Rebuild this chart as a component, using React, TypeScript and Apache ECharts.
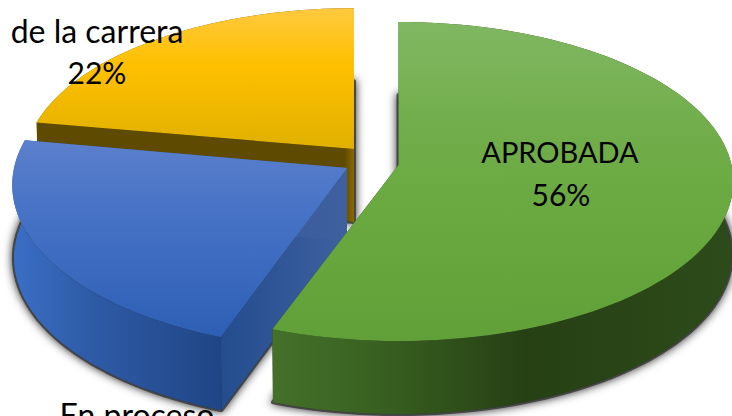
import React, { useEffect, useRef } from "react";
import * as echarts from "echarts";

// Data: counts (200 deg / 80 deg / 80 deg)
const categories = ["APROBADA", "En proceso", "de la carrera"];
const counts = [5, 2, 2];
const showPercent = [true, false, true];

// Layout and styling (not data)
const W = 732, H = 416;
const RX = 333, RY = 157.8, K = 0.1034, DEPTH = 73;
const apexes = [[398.5, 165], [347, 168], [354, 149]];
const scalesX = [1, 1, 0.985];
const scalesY = [1, 1.03, 0.985];
const namePos = [[560, 151], [137, 398], [97, 30]];
const nameSize = [29, 32, 32];
const pctPos = [[561, 194], [137, 440], [97, 72]];
const drawOrder = [2, 1, 0];

const grad = (x: number, y: number, x2: number, y2: number, stops: [number, string][]) => ({
  type: "linear", x, y, x2, y2,
  colorStops: stops.map(([offset, color]) => ({ offset, color })),
});
const tops = [
  grad(0, 0, 0, 1, [[0, "#80b762"], [0.35, "#71ad4a"], [0.6, "#69a93f"], [1, "#61a038"]]),
  grad(0, 0, 0, 1, [[0, "#5b80cc"], [0.35, "#4873c6"], [1, "#2d5fb5"]]),
  grad(0, 0, 0, 1, [[0, "#ffc93f"], [0.4, "#ffc000"], [1, "#e0b000"]]),
];
const sides = [
  grad(0, 0, 1, 0, [[0, "#44702a"], [0.2, "#3a6322"], [0.55, "#264014"], [1, "#2d4b1a"]]),
  grad(0, 0, 1, 0, [[0, "#3a6fc6"], [0.35, "#2f5ca8"], [1, "#1f4585"]]),
  grad(0, 0, 1, 0, [[0, "#5e4a00"], [1, "#5e4a00"]]),
];
const faces = [
  "#22391a",
  grad(0, 0, 1, 0, [[0, "#234d8f"], [1, "#3f609f"]]),
  grad(0, 0, 1, 0, [[0, "#5e4a00"], [0.97, "#5e4a00"], [1, "#8a6a00"]]),
];

function rim(i: number, a0: number, a1: number): number[][] {
  const pts: number[][] = [];
  const n = Math.ceil((a1 - a0) / 2);
  for (let s = 0; s <= n; s++) {
    const t = ((a0 + ((a1 - a0) * s) / n) * Math.PI) / 180;
    const X = Math.sin(t), Y = -Math.cos(t), d = 1 - K * Y;
    pts.push([
      apexes[i][0] + (scalesX[i] * RX * X) / d,
      apexes[i][1] + (scalesY[i] * RY * Y) / d,
    ]);
  }
  return pts;
}
const lower = (p: number[], i: number) => [
  apexes[i][0] + (p[0] - apexes[i][0]) * 0.995,
  p[1] + DEPTH,
];

const total = counts.reduce((a, b) => a + b, 0);
const ranges: number[][] = [];
counts.reduce((acc, v) => {
  const next = acc + (v / total) * 360;
  ranges.push([acc, next]);
  return next;
}, 0);

const poly = (points: number[][], style: any) => ({ type: "polygon", shape: { points }, style });
const label = (text: string, pos: number[], size: number, top = false) => ({
  type: "text",
  z2: 10,
  style: {
    x: pos[0],
    y: pos[1],
    text,
    fill: "#000",
    font: size + "px Lato",
    align: "center",
    verticalAlign: top ? "top" : "middle",
  },
});

function renderItem(params: any) {
  if (params.dataIndex !== 0) return { type: "group", children: [] };
  const children: any[] = [];
  for (const i of drawOrder) {
    const [a0, a1] = ranges[i];
    const arc = rim(i, a0, a1);
    const apex = apexes[i];
    const low = arc.map((p) => lower(p, i));
    const lowApex = lower(apex, i);
    children.push(
      poly([lowApex, ...low], {
        fill: "#222",
        stroke: "rgba(50,50,50,0.8)",
        lineWidth: 4,
        lineJoin: "round",
        shadowBlur: 10,
        shadowColor: "rgba(0,0,0,0.9)",
      })
    );
    // radial cut faces, then outer wall, then top face
    const first = arc[0], last = arc[arc.length - 1];
    children.push(poly([apex, first, lower(first, i), lowApex], { fill: faces[i] }));
    children.push(poly([apex, last, lower(last, i), lowApex], { fill: faces[i] }));
    children.push(poly([...arc, ...low.slice().reverse()], { fill: sides[i] }));
    children.push(poly([apex, ...arc], { fill: tops[i] }));
  }
  categories.forEach((name, i) => {
    children.push(label(name, namePos[i], nameSize[i], i === 1));
    if (showPercent[i]) {
      children.push(label(Math.round((counts[i] / total) * 100) + "%", pctPos[i], 30));
    }
  });
  return { type: "group", children };
}

export default function App() {
  const ref = useRef<HTMLDivElement>(null);
  useEffect(() => {
    const chart = echarts.init(ref.current!, undefined, { renderer: "svg" });
    chart.setOption({
      animation: false,
      backgroundColor: "#fff",
      series: [
        {
          type: "custom",
          coordinateSystem: "none",
          silent: true,
          clip: false,
          renderItem,
          data: counts.map((value, i) => ({ name: categories[i], value })),
        },
      ],
    });
    return () => chart.dispose();
  }, []);
  return (
    <div
      ref={ref}
      style={{ position: "fixed", left: 0, top: 0, width: W, height: H, overflow: "hidden" }}
    />
  );
}
